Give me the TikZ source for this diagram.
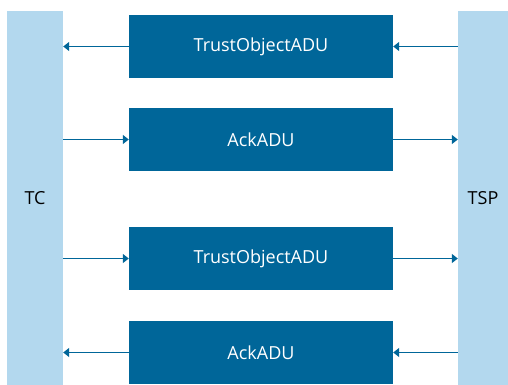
\documentclass[tikz,border=0pt]{standalone}
\usepackage{fontspec}
\setmainfont{Open Sans}
\usetikzlibrary{arrows.meta}
\definecolor{adublue}{RGB}{0,102,153}
\definecolor{barblue}{RGB}{179,216,238}
\begin{document}
\begin{tikzpicture}[x=1pt,y=-1pt,
	bar/.style={fill=barblue,minimum width=56pt,minimum height=374pt,inner sep=0pt,font=\fontsize{18}{21}\selectfont},
	adu/.style={fill=adublue,text=white,minimum width=264pt,minimum height=63pt,inner sep=0pt,font=\fontsize{18}{21}\selectfont},
	msg/.style={draw=adublue,line width=1.2pt,-{Triangle[length=6pt,width=9pt]}}]
	
	\useasboundingbox (0,0) rectangle (508,385);
	
	% the two parties
	\node[bar] (tc) at (35,198) {TC};
	\node[bar,minimum width=50pt] (tsp) at (483,198) {TSP};
	
	% messages
	\node[adu] (obj1) at (261,46.5) {TrustObjectADU};
	\node[adu] (ack1) at (261,139.5) {AckADU};
	\node[adu] (obj2) at (261,258.5) {TrustObjectADU};
	\node[adu] (ack2) at (261,352.5) {AckADU};
	
	% arrows
	\draw[msg] (tsp.west |- obj1) -- (obj1.east);
	\draw[msg] (obj1.west) -- (tc.east |- obj1);
	\draw[msg] (tc.east |- ack1) -- (ack1.west);
	\draw[msg] (ack1.east) -- (tsp.west |- ack1);
	\draw[msg] (tc.east |- obj2) -- (obj2.west);
	\draw[msg] (obj2.east) -- (tsp.west |- obj2);
	\draw[msg] (tsp.west |- ack2) -- (ack2.east);
	\draw[msg] (ack2.west) -- (tc.east |- ack2);
	
\end{tikzpicture}
\end{document}
